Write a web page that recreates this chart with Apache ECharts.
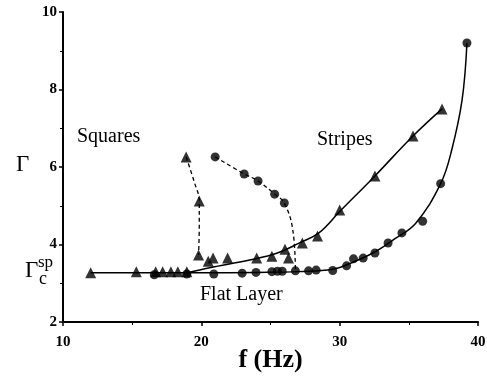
<!DOCTYPE html>
<html>
<head>
<meta charset="utf-8">
<script src="https://cdn.jsdelivr.net/npm/echarts@6/dist/echarts.min.js"></script>
<style>
html, body { margin: 0; padding: 0; background: #fff; }
#chart { width: 487px; height: 379px; }
</style>
</head>
<body>
<div id="chart"></div>
<script>
var triPts = [
    [12, 3.27], [15.3, 3.3], [16.7, 3.3], [17.2, 3.3], [17.8, 3.3], [18.3, 3.3], [18.95, 3.3],
    [19.8, 3.73], [20.5, 3.57], [20.85, 3.65], [21.9, 3.65], [24.0, 3.65], [25.1, 3.7],
    [26.05, 3.88], [26.3, 3.65], [27.3, 4.04], [28.4, 4.22], [30.0, 4.89],
    [32.55, 5.77], [35.3, 6.8], [37.4, 7.5],
    [18.9, 6.26], [19.85, 5.12]
];
var circPts = [
    [16.6, 3.22], [18.95, 3.24], [20.9, 3.24], [22.95, 3.26], [23.95, 3.28],
    [25.1, 3.3], [25.5, 3.31], [25.85, 3.31], [26.8, 3.32], [27.75, 3.32], [28.3, 3.34],
    [29.5, 3.33], [30.5, 3.45], [31.0, 3.63], [31.7, 3.65], [32.55, 3.78], [33.5, 4.04],
    [34.5, 4.3], [36.0, 4.6], [37.3, 5.57], [39.2, 9.2],
    [21.0, 6.26], [23.1, 5.82], [24.1, 5.64], [25.3, 5.3], [26.0, 5.07]
];
// fitted curves
var stripesCurve = [[19.0, 3.27], [20.6, 3.4], [23.5, 3.6], [25.5, 3.78], [27.1, 4.04], [28.5, 4.3], [30.0, 4.85], [32.55, 5.77], [35.3, 6.8], [37.4, 7.5]];
var flatCurve = [[12, 3.27], [16, 3.27], [20, 3.27], [24, 3.28], [27, 3.3], [29.5, 3.36], [31, 3.55], [32.5, 3.8], [34, 4.15], [35.5, 4.55], [37.3, 5.57], [38.1, 6.44], [38.85, 7.73], [39.2, 9.2]];
var squaresEdge = [[18.9, 6.26], [19.5, 5.6], [19.85, 5.12], [19.85, 4.5], [19.8, 3.73]];
var circlesEdge = [[21.0, 6.26], [23.1, 5.82], [24.1, 5.64], [25.3, 5.3], [26.0, 5.07], [26.6, 4.4], [26.8, 3.33]];

var xTicks = [10, 20, 30, 40];
var yTicks = [2, 4, 6, 8, 10];

var chart = echarts.init(document.getElementById('chart'));

var serif = 'Liberation Serif';
var labelFont = '20px "Liberation Serif"';

var option = {
    animation: false,
    grid: {
        left: 63,
        right: 9,
        top: 12,
        bottom: 57,
        containLabel: false,
        outerBoundsMode: 'none'
    },
    xAxis: {
        type: 'value',
        min: xTicks[0],
        max: xTicks[xTicks.length - 1],
        interval: 10,
        axisLine: { lineStyle: { color: '#000', width: 2 } },
        axisTick: { length: 4, lineStyle: { color: '#000', width: 1.5 } },
        minorTick: { show: true, splitNumber: 2, length: 3, lineStyle: { color: '#000' } },
        splitLine: { show: false },
        axisLabel: {
            color: '#000',
            fontFamily: serif,
            fontWeight: 'bold',
            fontSize: 15,
            margin: 13
        },
        name: 'f (Hz)',
        nameLocation: 'middle',
        nameGap: 25,
        nameMoveOverlap: false,
        nameTextStyle: {
            color: '#000',
            fontFamily: serif,
            fontWeight: 'bold',
            fontSize: 26,
            verticalAlign: 'top'
        }
    },
    yAxis: {
        type: 'value',
        min: yTicks[0],
        max: yTicks[yTicks.length - 1],
        interval: 2,
        axisLine: { show: true, lineStyle: { color: '#000', width: 2 } },
        axisTick: { show: true, length: 4, lineStyle: { color: '#000', width: 1.5 } },
        minorTick: { show: true, splitNumber: 2, length: 3, lineStyle: { color: '#000' } },
        splitLine: { show: false },
        axisLabel: {
            color: '#000',
            fontFamily: serif,
            fontWeight: 'bold',
            fontSize: 15,
            margin: 6
        }
    },
    graphic: [
        { type: 'text', left: 77, top: 127, style: { text: 'Squares', font: labelFont, fill: '#000' } },
        { type: 'text', left: 317, top: 130, style: { text: 'Stripes', font: labelFont, fill: '#000' } },
        { type: 'text', left: 200, top: 285, style: { text: 'Flat Layer', font: labelFont, fill: '#000' } },
        { type: 'text', left: 16, top: 153, style: { text: 'Γ', font: '23px "Liberation Serif"', fill: '#000' } },
        { type: 'text', left: 25, top: 259, style: { text: 'Γ', font: '23px "Liberation Serif"', fill: '#000' } },
        { type: 'text', left: 38, top: 254, style: { text: 'sp', font: '17px "Liberation Serif"', fill: '#000' } },
        { type: 'text', left: 39, top: 270, style: { text: 'c', font: '18px "Liberation Serif"', fill: '#000' } }
    ],
    series: [
        {
            type: 'line', data: flatCurve, smooth: 0.4, showSymbol: false, symbol: 'none',
            lineStyle: { color: '#000', width: 1.5 }, z: 1
        },
        {
            type: 'line', data: stripesCurve, smooth: 0.4, showSymbol: false, symbol: 'none',
            lineStyle: { color: '#000', width: 1.5 }, z: 1
        },
        {
            type: 'line', data: squaresEdge, smooth: 0.4, showSymbol: false, symbol: 'none',
            lineStyle: { color: '#000', width: 1.3, type: [4, 3] }, z: 1
        },
        {
            type: 'line', data: circlesEdge, smooth: 0.4, showSymbol: false, symbol: 'none',
            lineStyle: { color: '#000', width: 1.3, type: [4, 3] }, z: 1
        },
        {
            type: 'scatter', data: triPts, symbol: 'triangle', symbolSize: 11,
            itemStyle: { color: '#000' }, z: 3
        },
        {
            type: 'scatter', data: circPts, symbol: 'circle', symbolSize: 9,
            itemStyle: { color: '#000' }, z: 3
        }
    ]
};

chart.setOption(option);
</script>
</body>
</html>
